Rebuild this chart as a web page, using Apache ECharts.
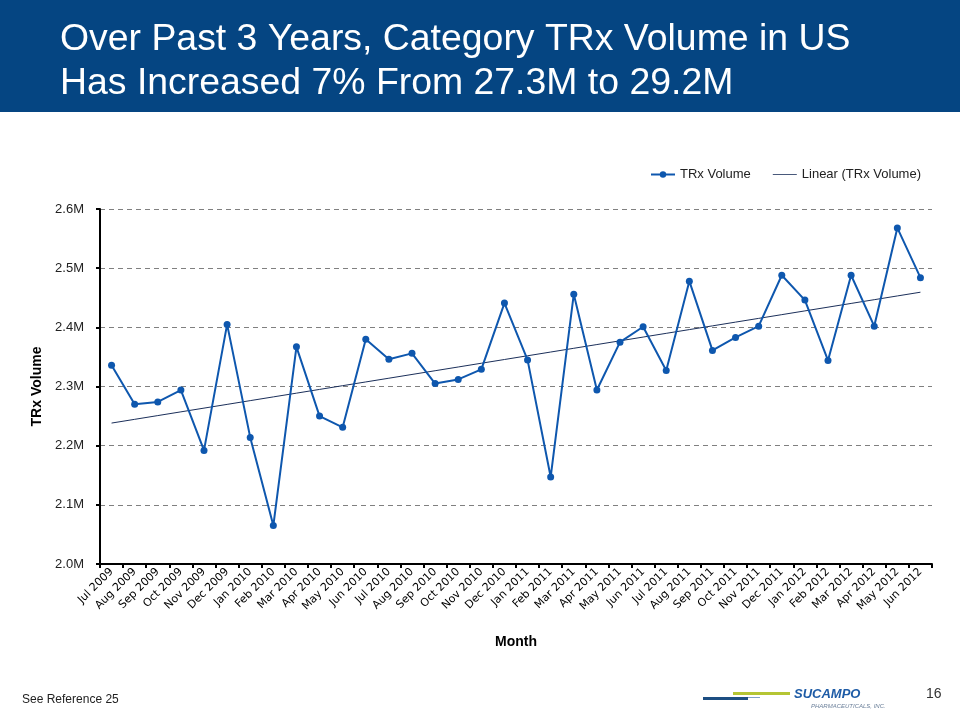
<!DOCTYPE html>
<html><head><meta charset="utf-8">
<script src="https://cdn.jsdelivr.net/npm/echarts@6/dist/echarts.min.js"></script>
<style>html,body{margin:0;padding:0;background:#fff}#c{width:960px;height:720px}</style>
</head><body><div id="c"></div>
<script>
const titleLines = ["Over Past 3 Years, Category TRx Volume in US", "Has Increased 7% From 27.3M to 29.2M"];
const months = ["Jul 2009","Aug 2009","Sep 2009","Oct 2009","Nov 2009","Dec 2009","Jan 2010","Feb 2010","Mar 2010","Apr 2010","May 2010","Jun 2010","Jul 2010","Aug 2010","Sep 2010","Oct 2010","Nov 2010","Dec 2010","Jan 2011","Feb 2011","Mar 2011","Apr 2011","May 2011","Jun 2011","Jul 2011","Aug 2011","Sep 2011","Oct 2011","Nov 2011","Dec 2011","Jan 2012","Feb 2012","Mar 2012","Apr 2012","May 2012","Jun 2012"];
const trxVolume = [2336000,2270000,2274000,2294000,2192000,2405000,2214000,2065000,2367000,2250000,2231000,2380000,2346000,2356000,2305000,2312000,2329000,2441000,2345000,2147000,2456000,2294000,2375000,2401000,2327000,2478000,2361000,2383000,2402000,2488000,2446000,2344000,2488000,2402000,2568000,2484000];
const yTicks = {min: 2000000, max: 2600000, interval: 100000};
const seriesNames = ["TRx Volume", "Linear (TRx Volume)"];
const footerText = "See Reference 25";
const pageNumber = "16";

// least-squares linear trend of the series
const n = trxVolume.length;
let sx=0, sy=0, sxy=0, sxx=0;
trxVolume.forEach((v,i)=>{sx+=i; sy+=v; sxy+=i*v; sxx+=i*i;});
const slope = (n*sxy - sx*sy)/(n*sxx - sx*sx);
const icpt = (sy - slope*sx)/n;
const trend = trxVolume.map((v,i)=>icpt + slope*i);

const chart = echarts.init(document.getElementById('c'));
const font = '"Liberation Sans", Arial, sans-serif';
const blue = '#0E57AE';
const navy = '#1B2F5A';
chart.setOption({
  backgroundColor: '#fff',
  animation: false,
  textStyle: {fontFamily: font},
  legend: {
    right: 34, top: 163, itemGap: 22, itemWidth: 24, itemHeight: 8,
    textStyle: {fontSize: 13, color: '#222', fontFamily: font},
    data: [
      {name: seriesNames[0]},
      {name: seriesNames[1], icon: 'path://M0,0 L30,0 L30,1 L0,1 Z', itemStyle: {color: navy}}
    ]
  },
  grid: {left: 100, right: 28, top: 209, bottom: 156, containLabel: false},
  xAxis: {
    type: 'category', data: months, boundaryGap: true,
    name: 'Month', nameLocation: 'middle', nameGap: 71,
    nameTextStyle: {fontSize: 14, fontWeight: 'bold', color: '#000'},
    axisLine: {lineStyle: {color: '#000', width: 2}},
    axisTick: {show: true, length: 4, lineStyle: {color: '#000', width: 2}},
    axisLabel: {rotate: 45, fontSize: 11, color: '#000', interval: 0, margin: 6, fontFamily: '"DejaVu Sans", Verdana, sans-serif'}
  },
  yAxis: {
    type: 'value', min: yTicks.min, max: yTicks.max, interval: yTicks.interval,
    name: 'TRx Volume', nameLocation: 'middle', nameGap: 54, nameRotate: 90,
    nameTextStyle: {fontSize: 14, fontWeight: 'bold', color: '#000'},
    axisLine: {show: true, lineStyle: {color: '#000', width: 2}},
    axisTick: {show: true, length: 4, lineStyle: {color: '#000', width: 2}},
    axisLabel: {fontSize: 13, color: '#222', margin: 16, formatter: v => (v/1000000).toFixed(1) + 'M'},
    splitLine: {show: true, lineStyle: {color: '#808080', type: [5, 4], width: 1}}
  },
  series: [
    {name: seriesNames[0], type: 'line', data: trxVolume, symbol: 'circle', symbolSize: 7,
     lineStyle: {color: blue, width: 2}, itemStyle: {color: blue}, z: 3},
    {name: seriesNames[1], type: 'line', data: trend, symbol: 'none', showSymbol: false,
     lineStyle: {color: navy, width: 1}, itemStyle: {color: navy}, z: 2}
  ],
  graphic: [
    {type: 'rect', left: 0, top: 0, shape: {width: 960, height: 112}, style: {fill: '#054582'}, silent: true},
    {type: 'text', left: 60, top: 21, style: {text: titleLines[0], fill: '#fff', font: '37.4px "Liberation Sans", Arial, sans-serif'}},
    {type: 'text', left: 60, top: 65, style: {text: titleLines[1], fill: '#fff', font: '37.4px "Liberation Sans", Arial, sans-serif'}},
    {type: 'text', left: 22, top: 694, style: {text: footerText, fill: '#222', font: '12px "Liberation Sans", Arial, sans-serif'}},
    {type: 'text', left: 926, top: 687, style: {text: pageNumber, fill: '#333', font: '14px "Liberation Sans", Arial, sans-serif'}},
    {type: 'rect', left: 703, top: 697, shape: {width: 45, height: 3}, style: {fill: '#1D4E82'}},
    {type: 'rect', left: 733, top: 692, shape: {width: 57, height: 3}, style: {fill: '#B5C534'}},
    {type: 'rect', left: 748, top: 697, shape: {width: 12, height: 1}, style: {fill: '#7FA0C8'}},
    {type: 'text', left: 794, top: 688, style: {text: 'SUCAMPO', fill: '#1D5BA6', font: 'italic bold 13px "Liberation Sans", Arial, sans-serif'}},
    {type: 'text', left: 811, top: 703, style: {text: 'PHARMACEUTICALS, INC.', fill: '#6A7F99', font: 'italic 6px "Liberation Sans", Arial, sans-serif'}}
  ]
});
</script></body></html>
